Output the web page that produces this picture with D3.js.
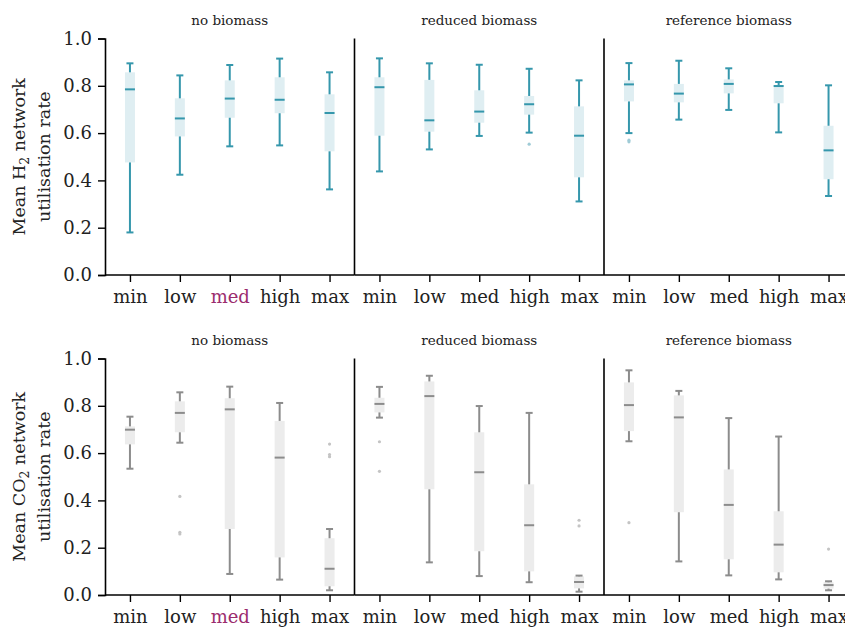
<!DOCTYPE html>
<html>
<head>
<meta charset="utf-8">
<script src="https://cdn.jsdelivr.net/npm/d3@7"></script>
<style>
  body { margin: 0; background: #fff; }
  svg { display: block; }
</style>
</head>
<body>
<svg id="chart" width="845" height="627"></svg>
<script>
// ---------- data ----------
const categories = ["min", "low", "med", "high", "max"];
const panels = ["no biomass", "reduced biomass", "reference biomass"];
const yTicks = [0, 0.2, 0.4, 0.6, 0.8, 1.0];

// each box: [whiskerLow, q1, median, q3, whiskerHigh]
const h2NoBiomass = [
  [0.18, 0.476, 0.785, 0.857, 0.895],
  [0.424, 0.586, 0.662, 0.747, 0.844],
  [0.544, 0.665, 0.746, 0.823, 0.888],
  [0.548, 0.684, 0.741, 0.836, 0.915],
  [0.362, 0.523, 0.685, 0.764, 0.857]
];
const h2Reduced = [
  [0.438, 0.589, 0.794, 0.836, 0.916],
  [0.531, 0.606, 0.654, 0.825, 0.895],
  [0.588, 0.644, 0.691, 0.781, 0.889],
  [0.602, 0.678, 0.722, 0.757, 0.872],
  [0.311, 0.413, 0.589, 0.713, 0.823]
];
const h2Reference = [
  [0.600, 0.734, 0.806, 0.823, 0.896],
  [0.657, 0.730, 0.767, 0.808, 0.906],
  [0.698, 0.768, 0.808, 0.827, 0.874],
  [0.603, 0.726, 0.799, 0.803, 0.816],
  [0.334, 0.405, 0.527, 0.631, 0.802]
];
const co2NoBiomass = [
  [0.534, 0.637, 0.699, 0.713, 0.754],
  [0.644, 0.688, 0.770, 0.819, 0.857],
  [0.089, 0.279, 0.785, 0.832, 0.881],
  [0.065, 0.159, 0.581, 0.736, 0.812],
  [0.020, 0.037, 0.111, 0.240, 0.279]
];
const co2Reduced = [
  [0.750, 0.772, 0.808, 0.834, 0.880],
  [0.138, 0.447, 0.841, 0.903, 0.927],
  [0.080, 0.185, 0.519, 0.688, 0.799],
  [0.054, 0.100, 0.295, 0.468, 0.770],
  [0.014, 0.028, 0.055, 0.079, 0.082]
];
const co2Reference = [
  [0.650, 0.693, 0.803, 0.899, 0.950],
  [0.142, 0.350, 0.751, 0.844, 0.863],
  [0.083, 0.151, 0.381, 0.531, 0.748],
  [0.066, 0.096, 0.213, 0.354, 0.670],
  [0.020, 0.027, 0.042, 0.054, 0.058]
];
// outliers: [categoryIndex, value]
const h2NoBiomassOut = [];
const h2ReducedOut = [[3, 0.553]];
const h2ReferenceOut = [[0, 0.570], [0, 0.563]];
const co2NoBiomassOut = [[1, 0.417], [1, 0.265], [1, 0.258], [4, 0.638], [4, 0.594], [4, 0.585]];
const co2ReducedOut = [[0, 0.648], [0, 0.523], [4, 0.316], [4, 0.292]];
const co2ReferenceOut = [[0, 0.306], [4, 0.194]];

// ---------- layout ----------
const FONT = "DejaVu Serif";
const svg = d3.select("#chart");
const left = 105, panelW = 249.5;
const rows = [
  { top: 38.5, bottom: 275, pre: "Mean H", sub: "2", post: " network",
    boxes: [h2NoBiomass, h2Reduced, h2Reference], outs: [h2NoBiomassOut, h2ReducedOut, h2ReferenceOut],
    stroke: "#3597ac", fill: "#dfeef2", outFill: "#9fcbd6" },
  { top: 358.5, bottom: 595, pre: "Mean CO", sub: "2", post: " network",
    boxes: [co2NoBiomass, co2Reduced, co2Reference], outs: [co2NoBiomassOut, co2ReducedOut, co2ReferenceOut],
    stroke: "#8c8c8c", fill: "#ececec", outFill: "#c4c4c4" }
];

const boxW = 10, capW = 7;
const TICK_FS = 18, LABEL_FS = 17.5, TITLE_FS = 13.5;

rows.forEach(row => {
  const y = d3.scaleLinear().domain([0, 1]).range([row.bottom, row.top]);

  // y axis
  const yAxis = d3.axisLeft(y).tickValues(yTicks).tickFormat(d3.format(".1f")).tickSize(7).tickPadding(6);
  const ga = svg.append("g").attr("transform", `translate(${left},0)`).call(yAxis)
    .attr("font-family", FONT).attr("font-size", TICK_FS);
  ga.select(".domain").attr("stroke", "#000").attr("stroke-width", 1.6);
  ga.selectAll(".tick line").attr("stroke", "#000").attr("stroke-width", 1.4);
  ga.selectAll(".tick text").attr("fill", "#222");

  // y label (two lines)
  const midY = (row.top + row.bottom) / 2;
  const lab = svg.append("text").attr("transform", `translate(25,${midY}) rotate(-90)`)
    .attr("text-anchor", "middle").attr("font-size", LABEL_FS).attr("font-family", FONT).attr("fill", "#222");
  lab.append("tspan").text(row.pre);
  lab.append("tspan").text(row.sub).attr("font-size", 12.5).attr("dy", 4);
  lab.append("tspan").text(row.post).attr("dy", -4);
  svg.append("text").attr("transform", `translate(50,${midY}) rotate(-90)`)
    .attr("text-anchor", "middle").attr("font-size", LABEL_FS).attr("font-family", FONT)
    .attr("fill", "#222").text("utilisation rate");

  panels.forEach((p, pi) => {
    const x0 = left + pi * panelW;
    const x = d3.scalePoint().domain(categories).range([x0, x0 + panelW]).padding(0.5);

    // x axis
    const xAxis = d3.axisBottom(x).tickSize(7).tickPadding(8);
    const gx = svg.append("g").attr("transform", `translate(0,${row.bottom})`).call(xAxis)
      .attr("font-family", FONT).attr("font-size", TICK_FS);
    gx.select(".domain").attr("stroke", "#000").attr("stroke-width", 1.6)
      .attr("d", `M${x0},0H${x0 + panelW}`);
    gx.selectAll(".tick line").attr("stroke", "#000").attr("stroke-width", 1.4);
    gx.selectAll(".tick text")
      .attr("fill", d => d === "med" && pi === 0 ? "#9b2c6e" : "#222");

    // separator (left spine of panels 2 and 3)
    if (pi > 0) {
      svg.append("line").attr("x1", x0).attr("x2", x0).attr("y1", row.top).attr("y2", row.bottom)
        .attr("stroke", "#000").attr("stroke-width", 1.6);
    }

    // title
    svg.append("text").attr("x", x0 + panelW / 2).attr("y", row.top - 14)
      .attr("text-anchor", "middle").attr("font-size", TITLE_FS).attr("font-family", FONT)
      .attr("fill", "#222").text(p);

    // boxes
    const data = row.boxes[pi];
    const g = svg.append("g");
    data.forEach((b, ci) => {
      const cx = x(categories[ci]);
      const [lo, q1, med, q3, hi] = b;
      g.append("rect").attr("x", cx - boxW / 2).attr("width", boxW)
        .attr("y", y(q3)).attr("height", y(q1) - y(q3)).attr("fill", row.fill);
      g.append("line").attr("x1", cx).attr("x2", cx).attr("y1", y(q1)).attr("y2", y(lo))
        .attr("stroke", row.stroke).attr("stroke-width", 2);
      g.append("line").attr("x1", cx).attr("x2", cx).attr("y1", y(q3)).attr("y2", y(hi))
        .attr("stroke", row.stroke).attr("stroke-width", 2);
      [lo, hi].forEach(v => g.append("line").attr("x1", cx - capW / 2).attr("x2", cx + capW / 2)
        .attr("y1", y(v)).attr("y2", y(v)).attr("stroke", row.stroke).attr("stroke-width", 2));
      g.append("line").attr("x1", cx - boxW / 2).attr("x2", cx + boxW / 2)
        .attr("y1", y(med)).attr("y2", y(med)).attr("stroke", row.stroke).attr("stroke-width", 2);
    });
    row.outs[pi].forEach(([ci, v]) => {
      g.append("circle").attr("cx", x(categories[ci])).attr("cy", y(v)).attr("r", 1.6)
        .attr("fill", row.outFill);
    });
  });
});
</script>
</body>
</html>
